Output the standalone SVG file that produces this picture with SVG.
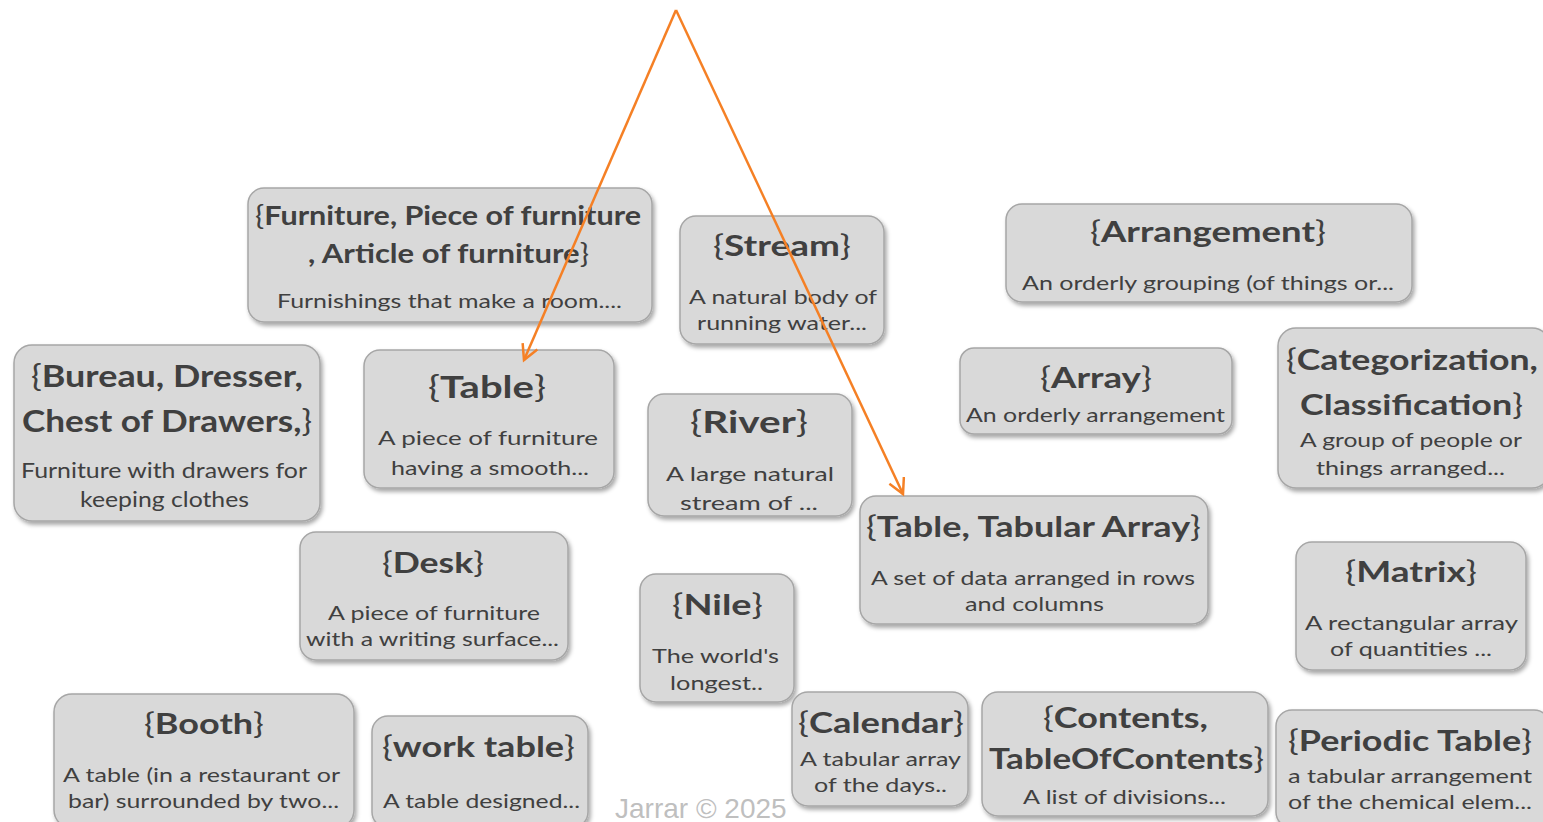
<svg xmlns="http://www.w3.org/2000/svg" width="1543" height="822" viewBox="0 0 1543 822">
<defs>
<filter id="sh" x="-10%" y="-10%" width="125%" height="130%">
<feDropShadow dx="2" dy="3" stdDeviation="2" flood-color="#000" flood-opacity="0.35"/>
</filter>
<marker id="ah" markerWidth="22" markerHeight="22" refX="17" refY="9" orient="auto" markerUnits="userSpaceOnUse">
<path d="M2,1 L17,9 L2,17" fill="none" stroke="#F58025" stroke-width="2.5"/>
</marker>
</defs>
<style>
.b{fill:#D9D9D9;stroke:#A6A6A6;stroke-width:1.5;filter:url(#sh)}
text{font-family:Lato,"Open Sans","Liberation Sans",sans-serif;fill:#404040}
.t{font-weight:bold;font-size:28px}
.r{font-weight:normal}
.d{font-size:20px}
.c{stroke:#F58025;stroke-width:2.5;fill:none}
</style>
<rect width="1543" height="822" fill="#fff"/>

<g id="n-furniture">
<rect class="b" x="248" y="188" width="404" height="134" rx="16"/>
<text class="t" style="font-size:26px" x="255" y="225" textLength="386" lengthAdjust="spacingAndGlyphs"><tspan class="r">{</tspan>Furniture, Piece of furniture</text>
<text class="t" style="font-size:26px" x="308" y="263" textLength="281" lengthAdjust="spacingAndGlyphs">, Article of furniture<tspan class="r">}</tspan></text>
<text class="d" x="277" y="308" textLength="345" lengthAdjust="spacingAndGlyphs">Furnishings that make a room....</text>
</g>

<g id="n-stream">
<rect class="b" x="680" y="216" width="204" height="128" rx="16"/>
<text class="t" x="713" y="256" textLength="138" lengthAdjust="spacingAndGlyphs"><tspan class="r">{</tspan>Stream<tspan class="r">}</tspan></text>
<text class="d" x="689" y="304" textLength="188" lengthAdjust="spacingAndGlyphs">A natural body of</text>
<text class="d" x="697" y="330" textLength="170" lengthAdjust="spacingAndGlyphs">running water...</text>
</g>

<g id="n-arrangement">
<rect class="b" x="1006" y="204" width="406" height="98" rx="16"/>
<text class="t" x="1090" y="242" textLength="236" lengthAdjust="spacingAndGlyphs"><tspan class="r">{</tspan>Arrangement<tspan class="r">}</tspan></text>
<text class="d" x="1022" y="290" textLength="372" lengthAdjust="spacingAndGlyphs">An orderly grouping (of things or...</text>
</g>

<g id="n-bureau">
<rect class="b" x="14" y="345" width="306" height="176" rx="18"/>
<text class="t" style="font-size:30px" x="31" y="387" textLength="272" lengthAdjust="spacingAndGlyphs"><tspan class="r">{</tspan>Bureau, Dresser,</text>
<text class="t" style="font-size:30px" x="22" y="432" textLength="290" lengthAdjust="spacingAndGlyphs">Chest of Drawers,<tspan class="r">}</tspan></text>
<text class="d" style="font-size:21px" x="21" y="478" textLength="286" lengthAdjust="spacingAndGlyphs">Furniture with drawers for</text>
<text class="d" style="font-size:21px" x="80" y="507" textLength="169" lengthAdjust="spacingAndGlyphs">keeping clothes</text>
</g>

<g id="n-table">
<rect class="b" x="364" y="350" width="250" height="138" rx="16"/>
<text class="t" style="font-size:30px" x="428" y="398" textLength="118" lengthAdjust="spacingAndGlyphs"><tspan class="r">{</tspan>Table<tspan class="r">}</tspan></text>
<text class="d" x="378" y="445" textLength="220" lengthAdjust="spacingAndGlyphs">A piece of furniture</text>
<text class="d" x="391" y="475" textLength="198" lengthAdjust="spacingAndGlyphs">having a smooth...</text>
</g>

<g id="n-river">
<rect class="b" x="648" y="394" width="204" height="122" rx="16"/>
<text class="t" style="font-size:30px" x="690" y="433" textLength="118" lengthAdjust="spacingAndGlyphs"><tspan class="r">{</tspan>River<tspan class="r">}</tspan></text>
<text class="d" x="666" y="481" textLength="168" lengthAdjust="spacingAndGlyphs">A large natural</text>
<text class="d" x="680" y="510" textLength="138" lengthAdjust="spacingAndGlyphs">stream of ...</text>
</g>

<g id="n-array">
<rect class="b" x="960" y="348" width="272" height="86" rx="14"/>
<text class="t" x="1040" y="388" textLength="112" lengthAdjust="spacingAndGlyphs"><tspan class="r">{</tspan>Array<tspan class="r">}</tspan></text>
<text class="d" x="966" y="422" textLength="259" lengthAdjust="spacingAndGlyphs">An orderly arrangement</text>
</g>

<g id="n-categorization">
<rect class="b" x="1278" y="328" width="272" height="160" rx="18"/>
<text class="t" style="font-size:29px" x="1286" y="370" textLength="252" lengthAdjust="spacingAndGlyphs"><tspan class="r">{</tspan>Categorization,</text>
<text class="t" style="font-size:29px" x="1300" y="415" textLength="223" lengthAdjust="spacingAndGlyphs">Classification<tspan class="r">}</tspan></text>
<text class="d" x="1300" y="447" textLength="222" lengthAdjust="spacingAndGlyphs">A group of people or</text>
<text class="d" x="1316" y="475" textLength="189" lengthAdjust="spacingAndGlyphs">things arranged...</text>
</g>

<g id="n-tabular">
<rect class="b" x="860" y="496" width="348" height="128" rx="16"/>
<text class="t" x="866" y="537" textLength="335" lengthAdjust="spacingAndGlyphs"><tspan class="r">{</tspan>Table, Tabular Array<tspan class="r">}</tspan></text>
<text class="d" x="871" y="585" textLength="324" lengthAdjust="spacingAndGlyphs">A set of data arranged in rows</text>
<text class="d" x="965" y="611" textLength="139" lengthAdjust="spacingAndGlyphs">and columns</text>
</g>

<g id="n-desk">
<rect class="b" x="300" y="532" width="268" height="128" rx="16"/>
<text class="t" x="382" y="573" textLength="102" lengthAdjust="spacingAndGlyphs"><tspan class="r">{</tspan>Desk<tspan class="r">}</tspan></text>
<text class="d" x="328" y="620" textLength="212" lengthAdjust="spacingAndGlyphs">A piece of furniture</text>
<text class="d" x="306" y="646" textLength="253" lengthAdjust="spacingAndGlyphs">with a writing surface...</text>
</g>

<g id="n-nile">
<rect class="b" x="640" y="574" width="154" height="128" rx="16"/>
<text class="t" x="672" y="615" textLength="91" lengthAdjust="spacingAndGlyphs"><tspan class="r">{</tspan>Nile<tspan class="r">}</tspan></text>
<text class="d" x="652" y="663" textLength="127" lengthAdjust="spacingAndGlyphs">The world's</text>
<text class="d" x="670" y="690" textLength="93" lengthAdjust="spacingAndGlyphs">longest..</text>
</g>

<g id="n-matrix">
<rect class="b" x="1296" y="542" width="230" height="128" rx="16"/>
<text class="t" x="1345" y="582" textLength="132" lengthAdjust="spacingAndGlyphs"><tspan class="r">{</tspan>Matrix<tspan class="r">}</tspan></text>
<text class="d" x="1305" y="630" textLength="213" lengthAdjust="spacingAndGlyphs">A rectangular array</text>
<text class="d" x="1330" y="656" textLength="162" lengthAdjust="spacingAndGlyphs">of quantities ...</text>
</g>

<g id="n-booth">
<rect class="b" x="54" y="694" width="300" height="134" rx="18"/>
<text class="t" x="144" y="734" textLength="120" lengthAdjust="spacingAndGlyphs"><tspan class="r">{</tspan>Booth<tspan class="r">}</tspan></text>
<text class="d" x="63" y="782" textLength="277" lengthAdjust="spacingAndGlyphs">A table (in a restaurant or</text>
<text class="d" x="68" y="808" textLength="271" lengthAdjust="spacingAndGlyphs">bar) surrounded by two...</text>
</g>

<g id="n-worktable">
<rect class="b" x="372" y="716" width="216" height="112" rx="16"/>
<text class="t" x="382" y="757" textLength="193" lengthAdjust="spacingAndGlyphs"><tspan class="r">{</tspan>work table<tspan class="r">}</tspan></text>
<text class="d" x="383" y="808" textLength="197" lengthAdjust="spacingAndGlyphs">A table designed...</text>
</g>

<g id="n-calendar">
<rect class="b" x="792" y="692" width="176" height="114" rx="16"/>
<text class="t" x="798" y="733" textLength="166" lengthAdjust="spacingAndGlyphs"><tspan class="r">{</tspan>Calendar<tspan class="r">}</tspan></text>
<text class="d" x="800" y="766" textLength="161" lengthAdjust="spacingAndGlyphs">A tabular array</text>
<text class="d" x="814" y="792" textLength="133" lengthAdjust="spacingAndGlyphs">of the days..</text>
</g>

<g id="n-contents">
<rect class="b" x="982" y="692" width="286" height="124" rx="16"/>
<text class="t" x="1043" y="728" textLength="165" lengthAdjust="spacingAndGlyphs"><tspan class="r">{</tspan>Contents,</text>
<text class="t" x="989" y="769" textLength="275" lengthAdjust="spacingAndGlyphs">TableOfContents<tspan class="r">}</tspan></text>
<text class="d" x="1023" y="804" textLength="203" lengthAdjust="spacingAndGlyphs">A list of divisions...</text>
</g>

<g id="n-periodic">
<rect class="b" x="1276" y="710" width="274" height="118" rx="16"/>
<text class="t" x="1288" y="751" textLength="244" lengthAdjust="spacingAndGlyphs"><tspan class="r">{</tspan>Periodic Table<tspan class="r">}</tspan></text>
<text class="d" x="1288" y="783" textLength="244" lengthAdjust="spacingAndGlyphs">a tabular arrangement</text>
<text class="d" x="1288" y="809" textLength="244" lengthAdjust="spacingAndGlyphs">of the chemical elem...</text>
</g>

<g id="connectors">
<line class="c" x1="676" y1="10" x2="524" y2="360" marker-end="url(#ah)"/>
<line class="c" x1="676" y1="10" x2="903" y2="494" marker-end="url(#ah)"/>
</g>

<text x="615" y="818" style="font-family:'Liberation Sans',Arial,sans-serif;font-size:28px;fill:#BFBFBF">Jarrar © 2025</text>
</svg>
